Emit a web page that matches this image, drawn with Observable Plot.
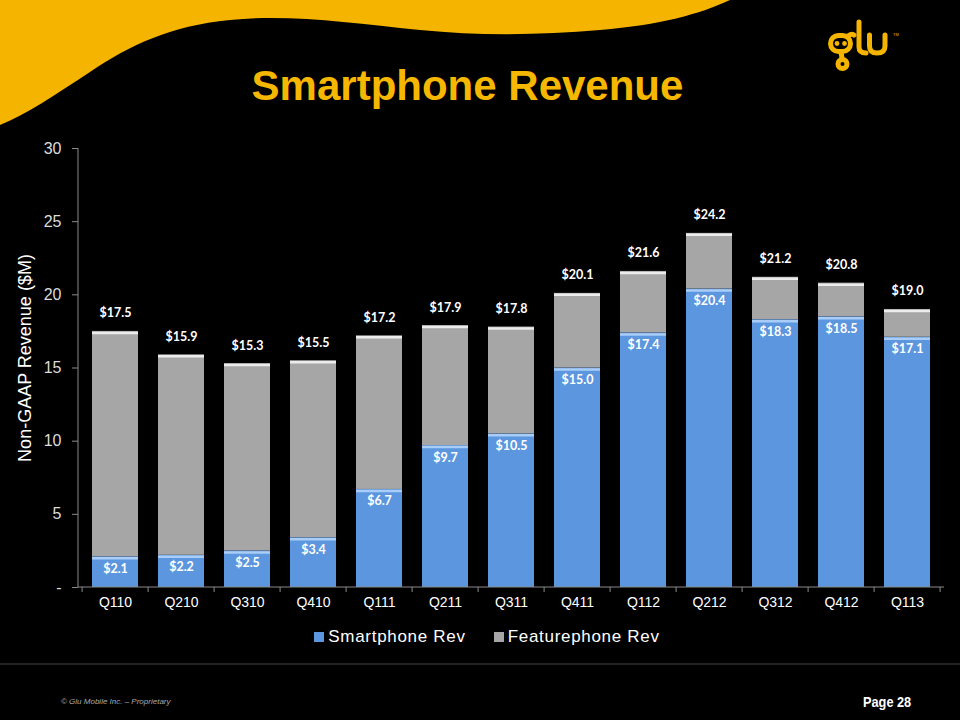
<!DOCTYPE html>
<html><head><meta charset="utf-8">
<script src="https://cdn.jsdelivr.net/npm/d3@7"></script>
<script src="https://cdn.jsdelivr.net/npm/@observablehq/plot@0.6"></script>
<style>
html,body{margin:0;padding:0;background:#000;}
#page{position:relative;width:960px;height:720px;background:#000;overflow:hidden;font-family:Arial,"Liberation Sans",sans-serif;}
#title{position:absolute;left:0;width:935px;top:62px;text-align:center;color:#f6b700;font:bold 42px Arial,"Liberation Sans",sans-serif;}
#chart{position:absolute;left:0;top:0;}
#ylabel{position:absolute;left:25px;top:358px;transform:translate(-50%,-50%) rotate(-90deg);white-space:nowrap;color:#fff;font-size:18px;}
#legend{position:absolute;left:0;width:1002px;top:624px;display:flex;justify-content:center;}
#legend .lg-swatches{font:17px Arial,"Liberation Sans",sans-serif !important;color:#fff;letter-spacing:0.7px;margin:0 !important;min-height:26px !important;}
#legend .lg-swatch{margin-right:28px !important;}
#legend .lg-swatch > svg{margin-right:4px !important;}
#copy{position:absolute;left:61px;top:697px;color:#aaa;font-style:italic;font-size:8px;}
#pagenum{position:absolute;left:863px;top:693px;color:#fff;font:bold 15px "Liberation Sans Narrow",Arial,sans-serif;transform:scaleX(0.85);transform-origin:left;}
</style></head><body>
<div id="page">
<svg id="deco" width="960" height="720" style="position:absolute;left:0;top:0">
  <path d="M0,0 L730,0 C700,14 660,25 600,30 C540,35 480,36 420,30 C350,23 290,14 230,20 C170,26 130,45 90,72 C55,95 25,115 0,125 Z" fill="#f4b400"/>
  <g fill="none" stroke="#f4b400" stroke-width="5" stroke-linecap="round">
    <rect x="830.5" y="35.5" width="20" height="16" rx="8"/>
    <path d="M848,36 Q852,33 854,35"/>
    <line x1="841" y1="52" x2="842" y2="58"/>
    <circle cx="842.5" cy="64" r="4.5"/>
    <path d="M859,22 L859,47 Q859,53 866,53"/>
    <path d="M869.5,35 L869.5,46 Q869.5,53 877,53 Q885,53 885,46 L885,35"/>
  </g>
  <g fill="#f4b400">
    <circle cx="837" cy="43.5" r="2.4"/>
    <circle cx="844.5" cy="43.5" r="2.4"/>
    <text x="893" y="36" font-size="4" font-family="Arial">TM</text>
  </g>
  <line x1="0" y1="664" x2="960" y2="664" stroke="#2e2e2e" stroke-width="1.5"/>
</svg>
<div id="title">Smartphone Revenue</div>
<div id="chart"></div>
<div id="ylabel">Non-GAAP Revenue ($M)</div>
<div id="legend"></div>
<div id="copy">© Glu Mobile Inc. – Proprietary</div>
<div id="pagenum">Page 28</div>
</div>
<script>
const quarters = ["Q110","Q210","Q310","Q410","Q111","Q211","Q311","Q411","Q112","Q212","Q312","Q412","Q113"];
const smartphoneRev = [2.1, 2.2, 2.5, 3.4, 6.7, 9.7, 10.5, 15.0, 17.4, 20.4, 18.3, 18.5, 17.1];
const featurephoneRev = [15.4, 13.7, 12.8, 12.1, 10.5, 8.2, 7.3, 5.1, 4.2, 3.8, 2.9, 2.3, 1.9];
const seriesNames = ["Smartphone Rev", "Featurephone Rev"];
const seriesColors = ["#5b96de", "#a6a6a6"];
const yTicks = [0, 5, 10, 15, 20, 25, 30];

const tidy = [];
quarters.forEach((q, i) => tidy.push({q, series: seriesNames[0], value: smartphoneRev[i]}));
quarters.forEach((q, i) => tidy.push({q, series: seriesNames[1], value: featurephoneRev[i]}));
const totals = quarters.map((q, i) => ({q, smart: smartphoneRev[i], total: +(smartphoneRev[i] + featurephoneRev[i]).toFixed(1)}));
const fmt = d3.format(".1f");
const AX_FONT = "Arial, 'Liberation Sans', sans-serif";
const LBL_FONT = "Lato, 'Open Sans', sans-serif";

function axisLines(index, scales, values, dimensions) {
  const x = scales.x, y = scales.y;
  const step = x(quarters[1]) - x(quarters[0]);
  const off = step * 0.15;
  const g = d3.create("svg:g").attr("stroke", "#8a8a8a").attr("stroke-width", 1);
  const y0 = y(0);
  g.append("line").attr("x1", dimensions.marginLeft).attr("x2", dimensions.marginLeft)
    .attr("y1", y(30)).attr("y2", y0);
  g.append("line").attr("x1", dimensions.marginLeft).attr("x2", dimensions.width - dimensions.marginRight)
    .attr("y1", y0).attr("y2", y0);
  const xs = quarters.map(q => x(q) - off);
  xs.push(x(quarters[quarters.length - 1]) - off + step);
  xs.forEach(v => g.append("line").attr("x1", v).attr("x2", v).attr("y1", y0).attr("y2", y0 + 5));
  return g.node();
}

const chart = Plot.plot({
  width: 960,
  height: 620,
  marginTop: 148,
  marginBottom: 33,
  marginLeft: 78,
  marginRight: 16,
  style: {background: "transparent", color: "#fff", fontFamily: AX_FONT},
  x: {domain: quarters, paddingInner: 0.3, paddingOuter: 0.15, label: null},
  y: {domain: [0, 30], label: null},
  color: {domain: seriesNames, range: seriesColors},
  marks: [
    Plot.barY(tidy, {x: "q", y: "value", fill: "series"}),
    Plot.tickY(tidy, Plot.stackY2({x: "q", y: "value",
      stroke: d => d.series === seriesNames[0] ? "#a9cdf6" : "#ececec", strokeWidth: 2.5, dy: 1.5})),
    axisLines,
    Plot.axisY({ticks: yTicks, tickSize: 6, tickPadding: 11, fontSize: 16, fontFamily: AX_FONT, stroke: "#8a8a8a", fill: "#dcdcdc",
      tickFormat: d => d === 0 ? "-" : String(d), label: null}),
    Plot.axisX({tickSize: 0, tickPadding: 10, fontSize: 14, fontFamily: AX_FONT, fill: "#fff", label: null}),
    Plot.text(totals, {x: "q", y: "total", text: d => "$" + fmt(d.total), dy: -18, fill: "#fff",
      fontFamily: LBL_FONT, fontWeight: "bold", fontSize: 12.5}),
    Plot.text(totals, {x: "q", y: "smart", text: d => "$" + fmt(d.smart), dy: 12, fill: "#fff",
      fontFamily: LBL_FONT, fontWeight: "bold", fontSize: 12.5})
  ]
});
document.getElementById("chart").appendChild(chart);
const leg = chart.legend("color", {swatchSize: 10, className: "lg"});
document.getElementById("legend").appendChild(leg);
</script>
</body></html>
